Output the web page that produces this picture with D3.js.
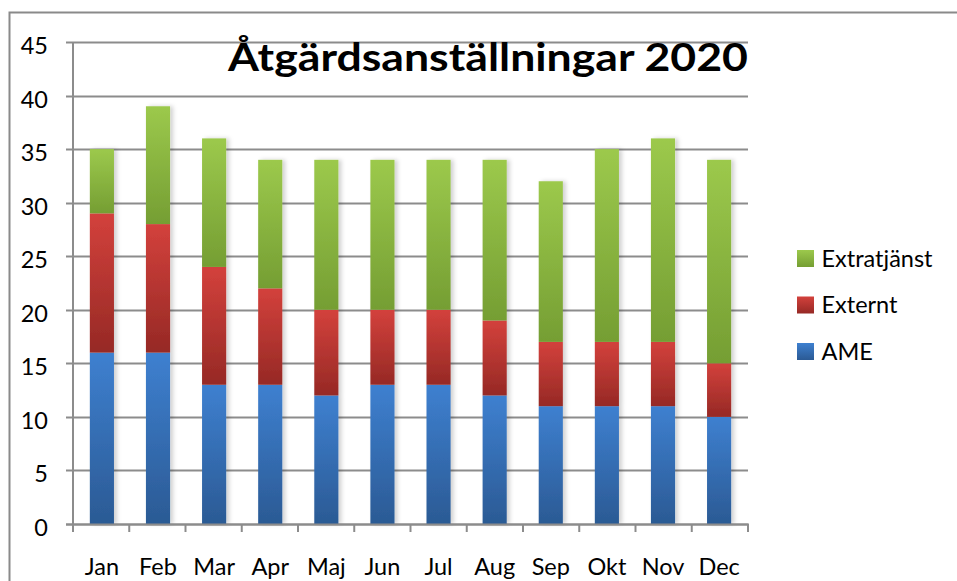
<html lang="sv">
<head>
<meta charset="utf-8">
<title>Åtgärdsanställningar 2020</title>
<script src="https://d3js.org/d3.v7.min.js"></script>
<style>
  body { margin: 0; background: #fff; }
  text { font-family: Lato, "Open Sans", sans-serif; fill: #000; }
</style>
</head>
<body>
<div id="viz"></div>
<script>
// data
var months = ["Jan", "Feb", "Mar", "Apr", "Maj", "Jun", "Jul", "Aug", "Sep", "Okt", "Nov", "Dec"];
var ame = [16, 16, 13, 13, 12, 13, 13, 12, 11, 11, 11, 10];
var externt = [13, 12, 11, 9, 8, 7, 7, 7, 6, 6, 6, 5];
var extratjanst = [6, 11, 12, 12, 14, 14, 14, 15, 15, 18, 19, 19];
var seriesNames = ["AME", "Externt", "Extratjänst"];
var yTicks = [0, 5, 10, 15, 20, 25, 30, 35, 40, 45];

var w = 957, h = 581;
var plotLeft = 73, plotRight = 748, plotTop = 42, plotBottom = 524;

// gradient colours per series: [top, bottom]
var grad = {
  "AME": ["#3e80d0", "#2b5a94"],
  "Externt": ["#d3413c", "#962925"],
  "Extratjänst": ["#9cc94c", "#759e33"]
};

var svg = d3.select("#viz").append("svg")
    .attr("width", w)
    .attr("height", h);

var defs = svg.append("defs");
seriesNames.forEach(function(s, i) {
  var g = defs.append("linearGradient")
      .attr("id", "g" + i)
      .attr("x1", 0).attr("y1", 0).attr("x2", 0).attr("y2", 1);
  g.append("stop").attr("offset", "0%").attr("stop-color", grad[s][0]);
  g.append("stop").attr("offset", "100%").attr("stop-color", grad[s][1]);
});
var shadow = defs.append("filter").attr("id", "shadow")
    .attr("x", "-20%").attr("y", "-5%").attr("width", "150%").attr("height", "110%");
shadow.append("feDropShadow")
    .attr("dx", 3).attr("dy", 0).attr("stdDeviation", 2)
    .attr("flood-color", "#000").attr("flood-opacity", 0.18);

// outer frame
svg.append("rect")
    .attr("x", 9.5).attr("y", 12.5)
    .attr("width", 1000).attr("height", 1000)
    .attr("fill", "none")
    .attr("stroke", "#8a8a8a")
    .attr("stroke-width", 2);

var x = d3.scaleBand().domain(months).range([plotLeft, plotRight]).paddingInner(0.57).paddingOuter(0.3);
var xEdges = d3.scaleLinear().domain([0, months.length]).range([plotLeft, plotRight]);
var y = d3.scaleLinear().domain([0, 45]).range([plotBottom, plotTop]);

// gridlines
svg.append("g").selectAll("line")
  .data(yTicks)
  .enter().append("line")
    .attr("x1", plotLeft - 7).attr("x2", plotRight)
    .attr("y1", function(d) { return Math.round(y(d)) + 0.5; })
    .attr("y2", function(d) { return Math.round(y(d)) + 0.5; })
    .attr("stroke", "#8c8c8c")
    .attr("stroke-width", 2);

// y axis labels
svg.append("g").selectAll("text")
  .data(yTicks)
  .enter().append("text")
    .attr("x", 48)
    .attr("y", function(d) { return y(d) + 12; })
    .attr("text-anchor", "end")
    .attr("font-size", 23.5)
    .text(function(d) { return d; });

// stacked bars
var rows = months.map(function(m, i) {
  return { month: m, "AME": ame[i], "Externt": externt[i], "Extratjänst": extratjanst[i] };
});
var stack = d3.stack().keys(seriesNames)(rows);

var bars = svg.append("g").attr("filter", "url(#shadow)");
bars.selectAll("g")
  .data(stack)
  .enter().append("g")
    .attr("fill", function(d, i) { return "url(#g" + i + ")"; })
  .selectAll("rect")
  .data(function(d) { return d; })
  .enter().append("rect")
    .attr("x", function(d) { return x(d.data.month); })
    .attr("width", x.bandwidth())
    .attr("y", function(d) { return y(d[1]); })
    .attr("height", function(d) { return y(d[0]) - y(d[1]); });

// axes lines
svg.append("line")
    .attr("x1", plotLeft).attr("x2", plotLeft)
    .attr("y1", plotTop).attr("y2", plotBottom + 8)
    .attr("stroke", "#8c8c8c").attr("stroke-width", 2);
svg.append("line")
    .attr("x1", plotLeft - 7).attr("x2", plotRight + 1)
    .attr("y1", plotBottom + 0.5).attr("y2", plotBottom + 0.5)
    .attr("stroke", "#8c8c8c").attr("stroke-width", 2);
svg.append("g").selectAll("line")
  .data(d3.range(months.length + 1))
  .enter().append("line")
    .attr("x1", function(d) { return xEdges(d); })
    .attr("x2", function(d) { return xEdges(d); })
    .attr("y1", plotBottom).attr("y2", plotBottom + 8)
    .attr("stroke", "#8c8c8c").attr("stroke-width", 2);

// x labels
svg.append("g").selectAll("text")
  .data(months)
  .enter().append("text")
    .attr("x", function(d) { return x(d) + x.bandwidth() / 2; })
    .attr("y", 575)
    .attr("text-anchor", "middle")
    .attr("font-size", 23.5)
    .text(function(d) { return d; });

// title
svg.append("text")
    .attr("x", 748)
    .attr("y", 71)
    .attr("text-anchor", "end")
    .attr("font-size", 39)
    .attr("font-weight", "bold")
    .attr("textLength", 520)
    .attr("lengthAdjust", "spacingAndGlyphs")
    .text("Åtgärdsanställningar 2020");

// legend (reverse order, top is Extratjänst)
var legend = svg.append("g").selectAll("g")
  .data(seriesNames.slice().reverse())
  .enter().append("g")
    .attr("transform", function(d, i) { return "translate(797," + (250 + i * 46.5) + ")"; });
legend.append("rect")
    .attr("width", 17).attr("height", 17)
    .attr("fill", function(d) { return "url(#g" + seriesNames.indexOf(d) + ")"; });
legend.append("text")
    .attr("x", 24.5)
    .attr("y", 16.5)
    .attr("font-size", 23.5)
    .text(function(d) { return d; });
</script>
</body>
</html>
